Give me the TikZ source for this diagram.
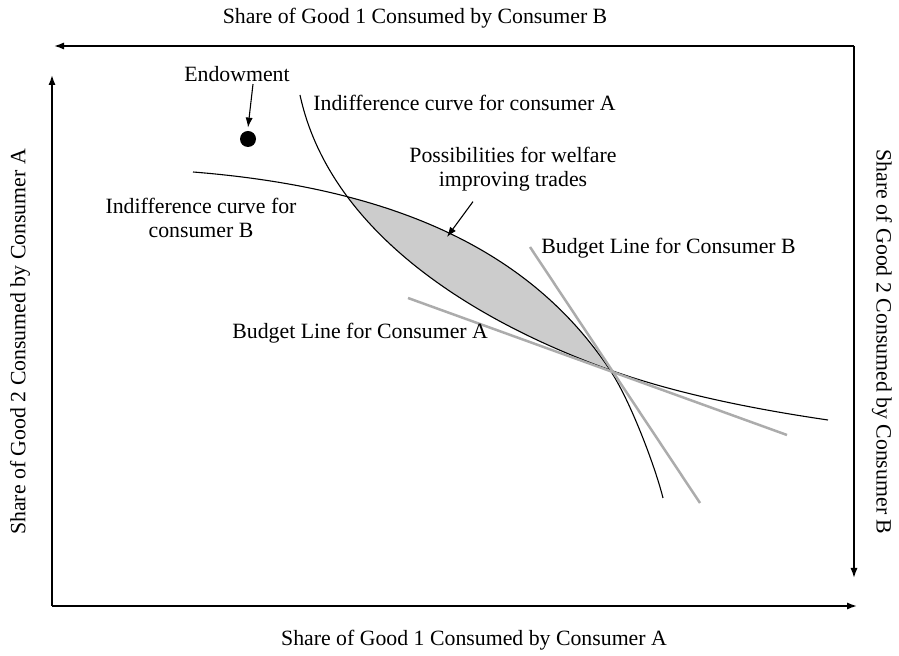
\documentclass[tikz,border=0pt]{standalone}
\usepackage{fontspec}
\setmainfont{Liberation Serif}
\usetikzlibrary{arrows.meta}

\begin{document}
\begin{tikzpicture}[x=0.5pt, y=-0.5pt, >={Latex[length=5pt,width=3.6pt]},
    font=\fontsize{10.9}{12.2}\selectfont,
    axis/.style={line width=0.85pt, ->},
    indiff/.style={line width=0.55pt},
    budget/.style={line width=1.25pt, gray!65},
    lbl/.style={inner sep=0pt, align=center},
    pointer/.style={line width=0.55pt, ->}]

    % Frame of the picture
    \useasboundingbox (0,0) rectangle (899,656);

    % Tangency point of both curves with the budget lines
    \def\Tx{610}
    \def\Ty{370}
    \coordinate (T) at (\Tx,\Ty);

    % Corners of the box (origin A bottom left, origin B top right)
    \coordinate (OA) at (52,606);
    \coordinate (OB) at (854,46);
    \coordinate (xA) at (857,606);
    \coordinate (yA) at (52,75);
    \coordinate (xB) at (54,46);
    \coordinate (yB) at (854,578);

    % Lens of welfare improving trades (above curve A, below curve B)
    \begin{scope}
        \clip (300,95) .. controls (328,225) and (460,316) .. (T) -- (\Tx,0) -- (300,0) -- cycle;
        \fill[gray!40] (193,172) .. controls (393,188) and (530,249.5) .. (T) -- (193,\Ty) -- cycle;
    \end{scope}

    % Indifference curves
    \draw[indiff] (300,95) .. controls (328,225) and (460,316) .. (T)
        .. controls (680,395) and (760,410) .. (828,420);
    \draw[indiff] (193,172) .. controls (393,188) and (530,249.5) .. (T)
        .. controls (630,400) and (655,466) .. (663,498);

    % Budget lines
    \coordinate (bA1) at (408,298);
    \coordinate (bA2) at (787,435);
    \coordinate (bB1) at (530,247);
    \coordinate (bB2) at (700,503);
    \draw[budget] (bA1) -- (bA2);
    \draw[budget] (bB1) -- (bB2);

    % Axes
    \draw[axis] (OA) -- (xA);
    \draw[axis] (OA) -- (yA);
    \draw[axis] (OB) -- (xB);
    \draw[axis] (OB) -- (yB);

    % Axis labels
    \node[lbl] (xAlbl) at (474,640) {Share of Good 1 Consumed by Consumer A};
    \node[lbl] (xBlbl) at (415,18) {Share of Good 1 Consumed by Consumer B};
    \node[lbl, rotate=90] (yAlbl) at (20,342) {Share of Good 2 Consumed by Consumer A};
    \node[lbl, rotate=-90] (yBlbl) at (882,342) {Share of Good 2 Consumed by Consumer B};

    % Endowment
    \node[circle, fill, inner sep=0pt, minimum size=8pt] (endow) at (248,139) {};
    \node[lbl] (endowlbl) at (237,74) {Endowment};
    \draw[pointer] ([xshift=8pt,yshift=-1pt]endowlbl.south) -- ([yshift=1.5pt]endow.north);

    % Curve and line labels
    \node[lbl, anchor=west] (indAlbl) at (313,103) {Indifference curve for consumer A};
    \node[lbl] (indBlbl) at (201,218) {Indifference curve for\\consumer B};
    \node[lbl, anchor=west] (budBlbl) at (541,248) {Budget Line for Consumer B};
    \node[lbl, anchor=west] (budAlbl) at (232,333) {Budget Line for Consumer A};

    % Possibilities for trade
    \node[lbl] (poss) at (513,169) {Possibilities for welfare\\improving trades};
    \coordinate (lens) at (447,237);
    \draw[pointer] ([xshift=-20pt,yshift=-5pt]poss.south) -- (lens);

\end{tikzpicture}
\end{document}
